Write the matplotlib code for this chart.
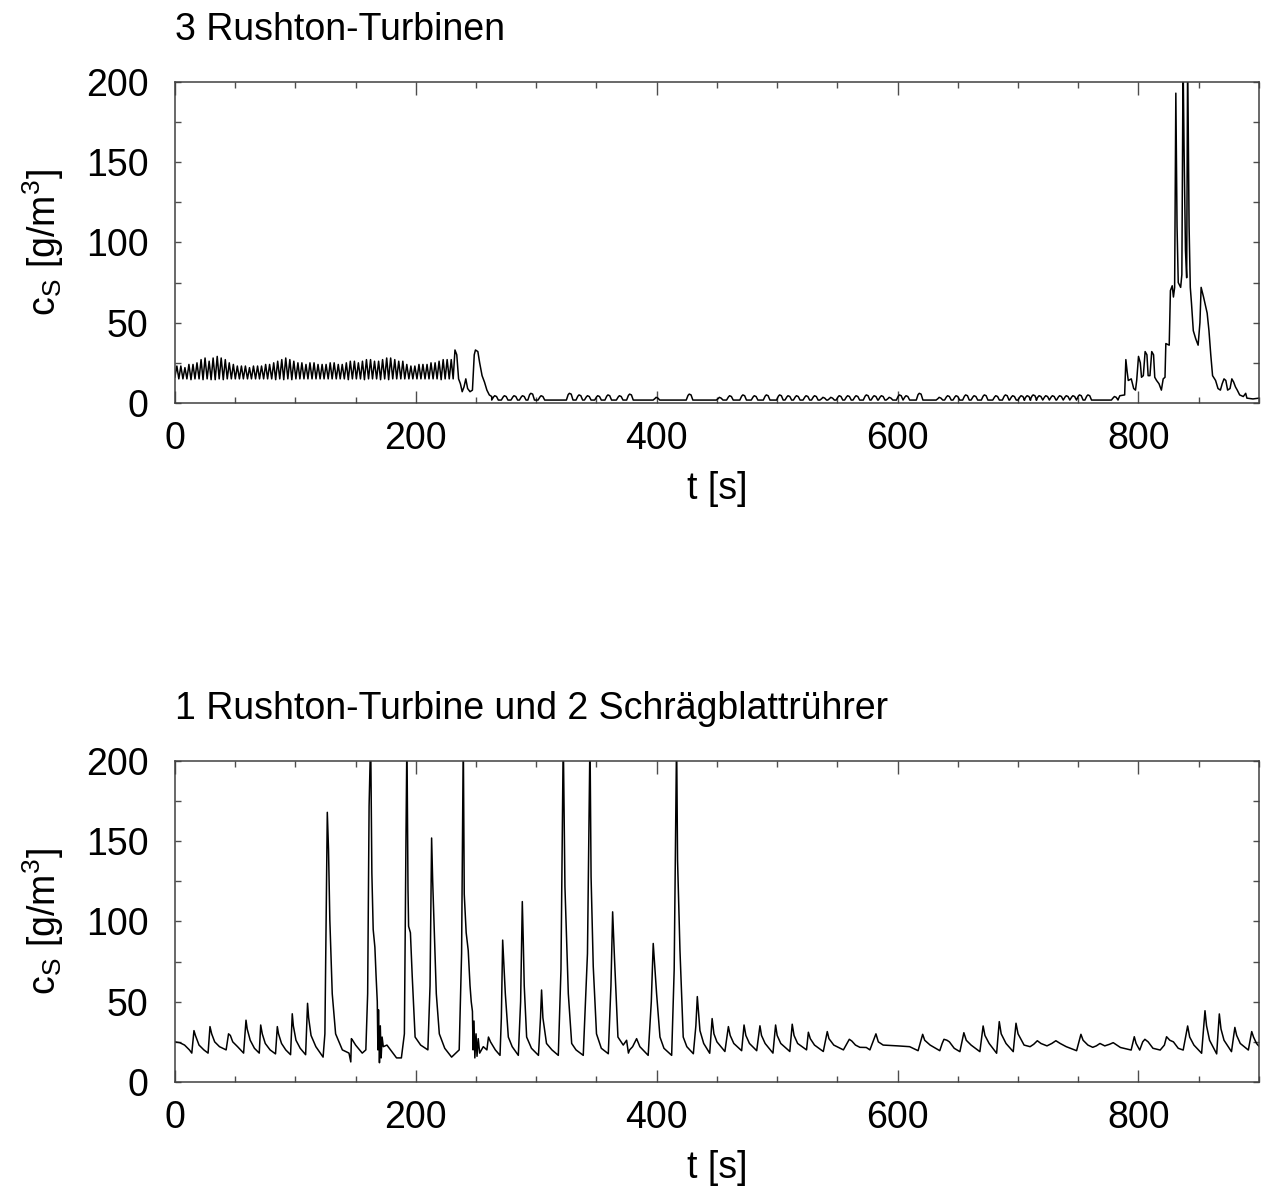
# coding:utf-8
from matplotlib import pyplot as plt
from matplotlib.ticker import MultipleLocator
import numpy as np

plt.rcParams['font.family'] = ['Liberation Sans', 'DejaVu Sans']
plt.rcParams['mathtext.fontset'] = 'custom'
plt.rcParams['mathtext.rm'] = 'Liberation Sans'
plt.rcParams['mathtext.it'] = 'Liberation Sans:italic'

title_top = '3 Rushton-Turbinen'
title_bottom = '1 Rushton-Turbine und 2 Schrägblattrührer'
x_label = 't [s]'
y_label = r'c$_{\mathrm{S}}$ [g/m$^{3}$]'

# ---- top panel: 3 Rushton turbines ----
# regular oscillation at the start (peak times / peak values / trough before each peak)
osc_peak_t = [1.6, 4.9, 8.3, 11.6, 15.0, 18.3, 21.7, 25.0, 28.4, 31.7,
              35.1, 38.4, 41.8, 45.1, 48.5, 51.8, 55.2, 58.5, 61.9, 65.2,
              68.6, 71.9, 75.3, 78.6, 82.0, 85.3, 88.7, 92.0, 95.4, 98.7,
              102.1, 105.4, 108.8, 112.1, 115.5, 118.8, 122.2, 125.5, 128.9, 132.2,
              135.6, 138.9, 142.3, 145.6, 149.0, 152.3, 155.7, 159.0, 162.4, 165.7,
              169.1, 172.4, 175.8, 179.1, 182.5, 185.8, 189.2, 192.5, 195.9, 199.2,
              202.6, 205.9, 209.3, 212.6, 216.0, 219.3, 222.7, 226.0, 229.4]
osc_peak_c = [23, 23, 22, 24, 24, 25, 27, 28, 26, 28,
              29, 28, 27, 25, 24, 23, 23, 23, 22, 23,
              23, 23, 24, 24, 25, 26, 27, 28, 27, 26,
              25, 25, 24, 25, 25, 24, 24, 24, 25, 25,
              24, 24, 25, 26, 26, 25, 26, 27, 27, 26,
              26, 27, 28, 28, 27, 26, 26, 24, 23, 23,
              24, 24, 24, 25, 25, 26, 27, 27, 27]
osc_trough_c = [16, 15, 15, 15, 14.5, 15, 15, 14.5, 15, 14.5,
                14.5, 15, 14.5, 15, 15, 15, 15, 15, 15, 15,
                15, 15, 15, 15, 15, 14.5, 15, 14.5, 15, 14.5,
                15, 15, 15, 15, 15, 15, 15, 15, 15, 15,
                15, 15, 15, 14.5, 15, 15, 15, 14.5, 15, 15,
                15, 14.5, 15, 14.5, 15, 15, 15, 15, 15, 15,
                15, 15, 15, 15, 15, 15, 14.5, 15, 15]

# drop after the oscillation
drop_t = [231.0, 232.5, 234.0, 235.5, 237.0, 238.5, 240.0, 241.5, 243.0, 245.0,
          247.0, 248.5, 249.5, 251.5, 253.0, 255.0, 257.0, 259.0, 261.0, 263.0]
drop_c = [15, 33, 30, 15, 12, 7, 10, 15, 9, 7,
          8, 30, 33, 32, 25, 17, 13, 8, 5, 4]

# low plateau with small bumps
base_c = 1.8
bump_t = [266, 274, 282, 289, 296, 304.5, 328, 336, 343, 351.5,
          360, 369.5, 378, 400, 427.5, 452.5, 461, 472, 481.5, 491.5,
          502.5, 509.5, 516.5, 524.5, 531.5, 538.5, 545, 552, 559, 566,
          574.5, 581, 587, 593.5, 602, 607.5, 618.5, 635, 642, 649,
          657, 664, 672.5, 682, 690, 696, 703, 708, 713, 718,
          723.5, 729, 735, 740.5, 746, 751.5, 758.5, 780.5]
bump_c = [4.5, 4.5, 4.5, 4.5, 6, 4.5, 6, 5, 4.5, 4.5,
          5, 4.5, 5.5, 3.5, 5.5, 3.5, 4.5, 5, 4.5, 5,
          5, 4.5, 4.5, 4.5, 4.5, 3.5, 3.5, 4.5, 4.5, 4.5,
          5, 4.5, 4.5, 3.5, 5, 4.5, 6, 3.5, 4.5, 4.5,
          5, 4.5, 5, 4.5, 5, 4.5, 4.5, 4.5, 5, 4.5,
          4.5, 4.5, 4.5, 4.5, 4.5, 5, 5, 4]

# final burst of peaks
burst_t = [783, 784.5, 788.5, 789.5, 790.5, 791.5, 794, 796, 797.5, 798.5,
           800, 801.5, 802.5, 804, 805.5, 807, 808, 809.5, 811, 812.5,
           813.5, 815, 817, 819, 820.5, 822, 822.7, 825.5, 826.5, 828,
           829, 830, 831, 832, 833, 835, 836, 837, 837.8, 839,
           840, 840.8, 842, 843, 844, 845.5, 847.5, 849.5, 851, 852,
           854, 857, 858.5, 860, 861.5, 864, 866, 868, 869.5, 871,
           872.5, 874, 876, 877.5, 879, 880.5, 882, 884, 887, 889,
           890, 895, 900]
burst_c = [2, 4.5, 5, 27, 20, 14, 15, 9, 8, 14,
           29, 25, 16, 17, 32, 30, 17, 17, 32, 30,
           16, 14, 12, 8, 15, 16, 37, 36, 70, 73,
           66, 72, 193, 110, 75, 72, 80, 215, 160, 95,
           78, 215, 110, 72, 62, 45, 40, 36, 50, 72,
           66, 56, 45, 30, 17, 14, 9, 8, 12, 15,
           14, 8, 9, 15, 13, 10, 8, 5, 4, 6,
           3, 2.5, 3]

# ---- bottom panel: 1 Rushton turbine + 2 pitched blade ----
bot_t = [0, 4, 8, 12, 14,
         15.8, 17, 20, 24, 27.5,
         29.1, 30.5, 33, 37, 42.5,
         44.5, 46, 48, 52, 57,
         59, 60, 62.5, 66, 70,
         71.2, 72.5, 75, 79, 83.5,
         85, 86, 88.5, 92, 96,
         97.4, 98.3, 100.5, 104, 108.5,
         110.1, 111, 113, 117, 123,
         124.5, 125.5, 126.5, 127.5, 128.6, 130.6, 133.4, 139, 144.5,
         146, 146.5, 147.5, 150, 155.5, 158.5,
         160, 161.2, 162.5, 163.5, 164.6, 166, 167, 168, 168.5, 169,
         169.8, 170.5, 171.2, 172, 173, 176, 180, 184, 188,
         190.5, 191.8, 192.6, 193.5, 194, 195.5, 197, 199.4, 204, 210,
         211.8, 213.1, 214, 215, 217, 219.5, 224, 229.7,
         236, 238, 239.4, 240.2, 241.8, 243.5, 245, 246, 247, 247.5,
         248.3, 249, 250, 250.8, 251.8, 253, 256, 259, 260.3, 262, 266, 269.9,
         271, 272.1, 273, 274.3, 276.8, 280, 285.1,
         287, 288.4, 289.2, 290, 292, 296, 301.8,
         303.5, 304.4, 305.5, 308.5, 313, 318.3,
         320.5, 322.4, 323.8, 326.6, 329.4, 333, 339,
         342.5, 344.6, 345.5, 347.3, 350, 354, 359.8,
         362, 363.4, 365, 367.8, 372.2, 375, 376.5, 377.5, 380, 383.3, 386, 392.9,
         395.5, 397.1, 399.9, 402.7, 406, 412.4,
         414.5, 416.5, 417.3, 419.3, 422, 425, 430.4,
         432.5, 433.7, 435.9, 439, 444,
         446, 447.5, 450, 456.6,
         459.5, 461, 464, 470.5,
         472.5, 474, 477, 483,
         485.7, 487, 490, 496.5,
         498.7, 500, 503, 510.5,
         512.5, 514, 517, 524.4,
         525.9, 527.5, 531, 538.3,
         541.6, 543, 547, 555,
         558, 559.9, 562, 565, 568.7, 574, 577,
         582, 584, 588, 600, 610, 617,
         620.8, 622.5, 627, 635,
         637, 638.5, 641, 643, 647, 651.7,
         655, 657, 661, 668.3,
         671, 672.5, 676, 682.2,
         684.4, 686, 690, 696,
         698.3, 700, 705, 710, 713, 716, 719, 724, 728, 731.4, 735, 740, 748.6,
         752.2, 754, 758, 762, 765, 768, 772, 776, 779, 785, 793.9,
         796.5, 798, 801, 803.5, 805.3, 808, 812, 818,
         821.5, 823.3, 826, 829, 833, 837.1,
         840.8, 842.5, 846, 852.4,
         855.2, 856.5, 859, 864.9,
         867.1, 868.5, 871, 877.2,
         880, 881.5, 884.5, 891.2,
         894, 895.5, 898, 900.8]
bot_c = [25, 24.5, 23, 20, 18,
         32, 29, 23, 20, 18,
         34.5, 30, 25, 22, 20,
         30, 29, 25, 22, 18,
         38.5, 33, 26, 21, 18,
         35.5, 30, 24, 20, 17.5,
         34.5, 30, 24, 20, 17,
         42.5, 35, 26, 21, 17,
         49, 40, 29, 22, 15.5,
         30, 100, 168, 145, 101, 55, 30, 20, 18,
         12.5, 27, 26, 23, 18, 20,
         55, 172, 215, 130, 95, 84, 66, 50, 20, 45,
         12, 35, 15, 28, 22, 23, 19, 15, 15,
         30, 150, 215, 120, 97, 93, 66, 28, 23, 20,
         60, 152, 125, 101, 55, 30, 21, 15.5,
         20, 80, 215, 117, 93, 82, 60, 50, 44, 20,
         38, 15, 30, 16, 27, 18, 22, 20, 28, 25, 20, 16.6,
         40, 88.4, 75, 55, 28, 22, 16.6,
         50, 112.4, 88, 60, 28, 21, 16.6,
         40, 57.3, 40, 24, 20, 16.6,
         70, 215, 121.6, 55, 24, 20, 16.6,
         80, 215, 127.8, 72, 30, 21, 17.6,
         60, 106, 76, 28, 23, 26, 18, 20, 22, 27, 22, 16.6,
         50, 86.3, 55, 28, 21, 16.6,
         70, 215, 138, 82, 28, 22, 17.6,
         35, 53.2, 32, 24, 17.9,
         39.5, 30, 25, 19,
         34.5, 29, 24, 19.5,
         35.5, 29, 24, 19.5,
         35, 29, 24, 18,
         35.5, 29, 24, 19,
         36, 29, 24, 20,
         31, 27, 23, 19,
         31.4, 27, 23, 20,
         24, 26.6, 25.5, 23, 21.6, 21.5, 20,
         30, 25, 23, 22.5, 22, 19.5,
         29.7, 26, 23, 19.5,
         24, 26.6, 26, 25, 21, 18.9,
         30.7, 26, 23, 18.9,
         34.9, 29, 24, 17.9,
         37.6, 30, 24, 18.9,
         36.6, 30, 23, 22, 23.5, 25.7, 24, 22.5, 24, 25.7, 24, 22, 19.5,
         29.7, 26, 23, 21.6, 22.5, 24, 22.5, 23.5, 24.5, 21.5, 19.9,
         28.2, 24, 19.9, 25, 26.6, 25, 21, 19.9,
         23, 28.2, 26, 25, 21, 19.9,
         34.9, 28, 23, 17.9,
         44.4, 35, 26, 17.5,
         42.4, 33, 26, 18.9,
         34, 29, 24, 19.9,
         31.4, 28, 24, 21.6]


def build_top():
    t, c = [], []
    for i in range(len(osc_peak_t)):
        half = 1.67
        t.append(osc_peak_t[i] - half)
        c.append(osc_trough_c[i])
        t.append(osc_peak_t[i])
        c.append(osc_peak_c[i])
    t += drop_t
    c += drop_c
    for bt, bc in zip(bump_t, bump_c):
        # each bump drawn as a small rounded hump on the baseline
        t += [bt - 3.0, bt - 1.5, bt - 0.5, bt + 1.0, bt + 2.5]
        c += [base_c, bc - 0.8, bc, bc - 0.5, base_c]
    t += burst_t
    c += burst_c
    return np.array(t), np.array(c)


def style_axes(ax, title):
    ax.set_xlim(0, 900)
    ax.set_ylim(0, 200)
    ax.xaxis.set_major_locator(MultipleLocator(200))
    ax.xaxis.set_minor_locator(MultipleLocator(50))
    ax.yaxis.set_major_locator(MultipleLocator(50))
    ax.yaxis.set_minor_locator(MultipleLocator(25))
    ax.tick_params(which='both', direction='in', top=True, right=True,
                   color='0.3', width=1.0, labelsize=27)
    ax.tick_params(axis='x', which='major', length=9, pad=13)
    ax.tick_params(axis='x', which='minor', length=4.5)
    ax.tick_params(axis='y', which='both', length=4.5, pad=19)
    for sp in ax.spines.values():
        sp.set_color('0.25')
        sp.set_linewidth(1.1)
    ax.set_xlabel(x_label, fontsize=27, labelpad=10)
    ax.set_ylabel(y_label, fontsize=27, labelpad=14)
    ax.set_title(title, loc='left', fontsize=27, pad=30)


fig = plt.figure(figsize=(12.64, 11.89), dpi=100)
ax1 = fig.add_axes([0.1384, 0.6611, 0.8576, 0.27])
ax2 = fig.add_axes([0.1384, 0.09, 0.8576, 0.27])

top_t, top_c = build_top()
ax1.plot(top_t, top_c, color='black', lw=1.1)
style_axes(ax1, title_top)

ax2.plot(bot_t, bot_c, color='black', lw=1.1)
style_axes(ax2, title_bottom)

plt.savefig('out.png', dpi=100)
